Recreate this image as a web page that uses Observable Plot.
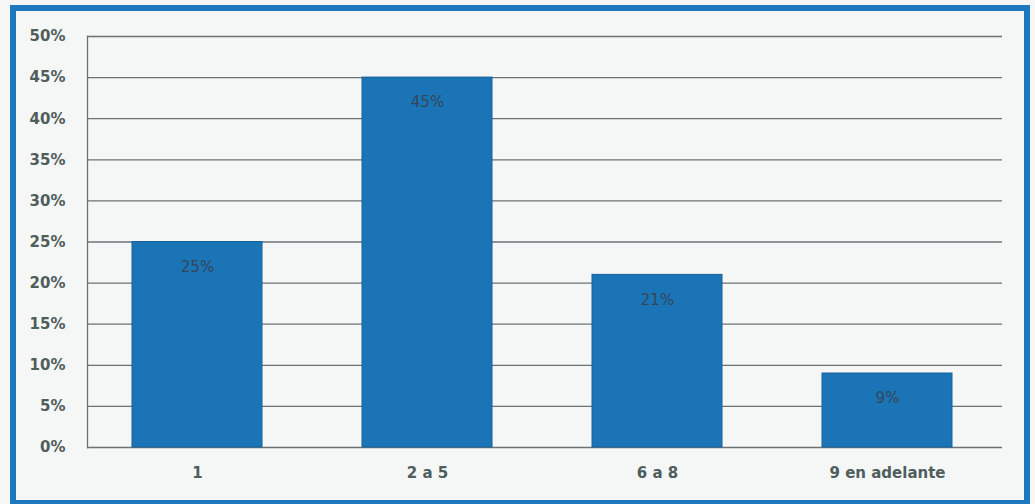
<!DOCTYPE html>
<html>
<head>
<meta charset="utf-8">
<script src="https://cdn.jsdelivr.net/npm/d3@7"></script>
<script src="https://cdn.jsdelivr.net/npm/@observablehq/plot@0.6"></script>
<style>
  body { margin: 0; background: #f5f6f6; }
  #chart { position: relative; width: 1035px; height: 504px; overflow: hidden; background: #f5f6f6; }
  #chart svg { position: absolute; left: 0; top: 0; }
  #frame {
    position: absolute; left: 10px; top: 5px;
    width: 1008px; height: 489px;
    border: 6px solid #1d78be;
    pointer-events: none;
  }
</style>
</head>
<body>
<div id="chart"><div id="frame"></div></div>
<script>
// Share of respondents by group size
const categories = ["1", "2 a 5", "6 a 8", "9 en adelante"];
const shares = [0.25, 0.45, 0.21, 0.09];
const yTicks = [0, 0.05, 0.10, 0.15, 0.20, 0.25, 0.30, 0.35, 0.40, 0.45, 0.50];

const data = categories.map((c, i) => ({ category: c, share: shares[i] }));
const pct = d => `${Math.round(d * 100)}%`;

const chart = Plot.plot({
  width: 1035,
  height: 504,
  marginLeft: 87,
  marginRight: 33,
  marginTop: 36,
  marginBottom: 57,
  style: { background: "transparent", fontFamily: "DejaVu Sans" },
  x: { domain: categories, paddingInner: 0.435, paddingOuter: 0.204, align: 0.47, label: null },
  y: { domain: [0, 0.5], label: null },
  marks: [
    Plot.gridY(yTicks, { stroke: "#6a7276", strokeOpacity: 1, strokeWidth: 1.3 }),
    Plot.frame({ anchor: "left", stroke: "#6a7276", strokeWidth: 1.3 }),
    Plot.barY(data, {
      x: "category", y: "share",
      fill: "#1b74b6", stroke: "#17609a", strokeWidth: 1
    }),
    Plot.text(data, {
      x: "category", y: "share",
      text: d => pct(d.share),
      dy: 25, fontSize: 15, fill: "#33475a"
    }),
    Plot.axisY(yTicks, {
      tickFormat: pct, tickSize: 0, tickPadding: 22,
      fontSize: 15, fontWeight: "bold", fill: "#4f5d5b"
    }),
    Plot.axisX({
      tickSize: 0, tickPadding: 20,
      fontSize: 15, fontWeight: "bold", fill: "#4e5d5d"
    })
  ]
});

document.getElementById("chart").prepend(chart);
</script>
</body>
</html>
